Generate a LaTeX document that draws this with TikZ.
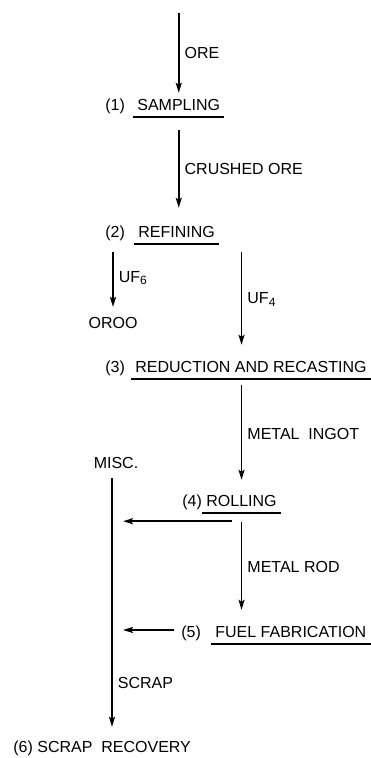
\documentclass[tikz,border=0pt]{standalone}
\usepackage{fontspec}
\setmainfont{Liberation Sans}
\usepackage{tikz}
\usetikzlibrary{arrows.meta, positioning, calc}

\begin{document}
\begin{tikzpicture}[
    x=0.5pt, y=-0.5pt,
    stage/.style={anchor=west, inner xsep=2pt, inner ysep=3pt, text height=5.8pt, text depth=0pt, font=\fontsize{8}{9}\selectfont},
    num/.style={anchor=west, inner xsep=0pt, inner ysep=3pt, text height=5.8pt, text depth=0pt, font=\fontsize{8}{9}\selectfont},
    lbl/.style={inner sep=2.5pt, font=\fontsize{8}{9}\selectfont},
    flow/.style={-{Stealth[length=5pt, width=3pt, inset=1pt]}, line width=0.9pt},
    uline/.style={line width=0.8pt}
]
\useasboundingbox (0,0) rectangle (370,758);

% Sampling
\node[num] (n1) at (105,105) {(1)};
\node[stage] (samp) at (133,105) {SAMPLING};
\draw[uline] (samp.south west) -- (samp.south east);
\coordinate (src) at ([yshift=40pt]samp.north);

% Refining
\node[num] (n2) at (105,232) {(2)};
\node[stage] (refin) at (134,232) {REFINING};
\draw[uline] (refin.south west) -- (refin.south east);
\node[lbl] (oroo) at (113,323) {OROO};

% Reduction and recasting
\node[num] (n3) at (105,367) {(3)};
\node[stage] (reduc) at (131,367) {REDUCTION AND RECASTING};
\draw[uline] (reduc.south west) -- (reduc.south east);

% Rolling
\node[lbl] (misc) at (116,463) {MISC.};
\coordinate (drop) at ([xshift=-2pt]misc.south);
\node[num] (n4) at (182,501) {(4)};
\node[stage] (roll) at (202,501) {ROLLING};
\draw[uline] (roll.south west) -- (roll.south east);

% Fuel fabrication
\node[num] (n5) at (181,632) {(5)};
\node[stage] (fuel) at (211,632) {FUEL\ FABRICATION};
\draw[uline] (fuel.south west) -- (fuel.south east);

% Scrap recovery
\node[num] (recov) at (13,747) {(6)\ SCRAP\ \ RECOVERY};

% Main flow
\draw[flow] (src) -- (samp.north) node[lbl, midway, right] {ORE};
\draw[flow, shorten <=6.5pt, shorten >=6pt] (samp.south) -- (samp.south |- refin.north) node[lbl, midway, right] {CRUSHED ORE};
\draw[flow, shorten <=4pt, shorten >=2.5pt] (oroo |- refin.south) -- (oroo.north) node[lbl, midway, right] {UF\textsubscript{6}};
\draw[flow, shorten <=4pt, shorten >=5pt] (roll |- refin.south) -- (roll |- reduc.north) node[lbl, midway, right] {UF\textsubscript{4}};
\draw[flow, shorten <=3pt, shorten >=4.5pt] (roll |- reduc.south) -- (roll.north) node[lbl, midway, right] {METAL\ \ INGOT};
\draw[flow, shorten <=4.5pt, shorten >=5pt] (roll.south) -- (roll |- fuel.north) node[lbl, midway, right] {METAL ROD};

% Scrap flow
\draw[flow, shorten <=2pt, shorten >=4pt] (drop) -- (drop |- recov.north) node[lbl, pos=0.8, right] {SCRAP};
\draw[flow, shorten <=5pt, shorten >=5.5pt] ([yshift=-4pt]roll.south) -- ([yshift=-4pt]roll.south -| drop);
\draw[flow, shorten <=3.5pt, shorten >=5.5pt] ([yshift=1pt]n5.west) -- ([yshift=1pt]n5.west -| drop);

\end{tikzpicture}
\end{document}
